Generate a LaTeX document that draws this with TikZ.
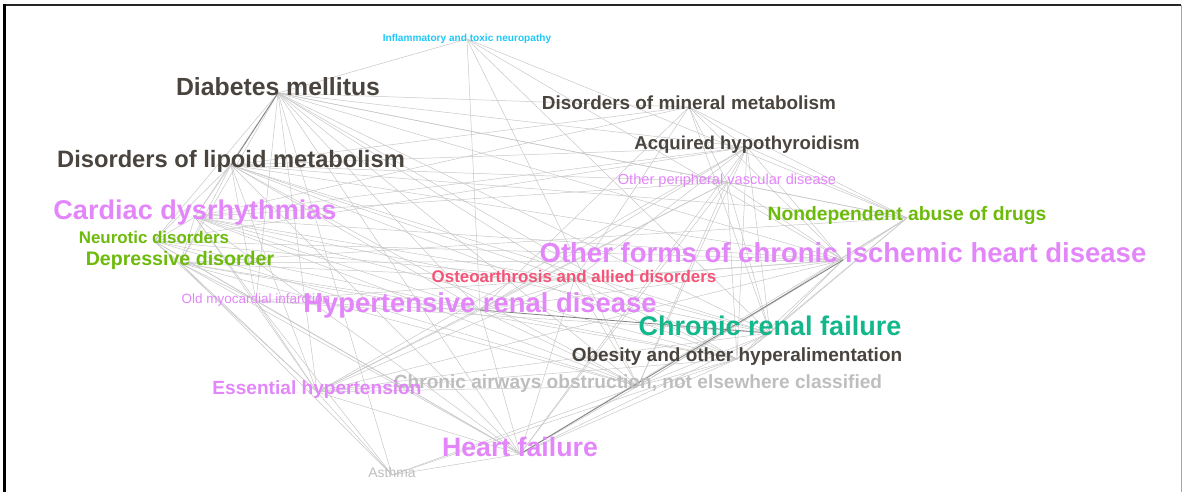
\documentclass[tikz,border=0pt]{standalone}
\usepackage{fontspec}
\usepackage{tikz}
\usetikzlibrary{backgrounds}
\newfontfamily\gfont{Liberation Sans}

\definecolor{dkgray}{RGB}{74,68,63}
\definecolor{pinkc}{RGB}{226,134,250}
\definecolor{greenc}{RGB}{108,186,10}
\definecolor{tealc}{RGB}{18,184,140}
\definecolor{redc}{RGB}{245,84,120}
\definecolor{cyanc}{RGB}{30,200,250}
\definecolor{ltgray}{RGB}{190,190,190}

\tikzset{
  dis/.style={inner sep=0pt, text height=0.75em, text depth=0.2em,
    font=\gfont\bfseries\fontsize{#1}{#1}\selectfont},
  disthin/.style={inner sep=0pt, text height=0.75em, text depth=0.2em,
    font=\gfont\fontsize{#1}{#1}\selectfont},
  edge/.style={draw=black!22, line width=0.5pt},
  heavy/.style={draw=black!50, line width=0.8pt}
}

\begin{document}
\begin{tikzpicture}[x=1pt, y=-1pt]
\useasboundingbox (0,0) rectangle (1183,492);

%Frame
\draw[black!85, line width=2pt] (3,5) -- (1181,5);
\draw[black, line width=2.5pt] (4.5,4) -- (4.5,492);
\draw[black!35, line width=1pt] (1181,5) -- (1181,492);

%Nodes
\node[dis=10.1, cyanc]      (IN) at (467,39)  {Inflammatory and toxic neuropathy};
\node[dis=24.8, dkgray]     (DM) at (278,93)  {Diabetes mellitus};
\node[dis=18.9, dkgray]     (MM) at (689,107) {Disorders of mineral metabolism};
\node[dis=18.6, dkgray]     (AH) at (747,147) {Acquired hypothyroidism};
\node[dis=23.7, dkgray]     (LM) at (231,165) {Disorders of lipoid metabolism};
\node[disthin=14.6, pinkc]  (PV) at (727,182) {Other peripheral vascular disease};
\node[dis=27.1, pinkc]      (CD) at (195,217) {Cardiac dysrhythmias};
\node[dis=19.3, greenc]     (ND) at (907,218) {Nondependent abuse of drugs};
\node[dis=16.9, greenc]     (NE) at (154,241) {Neurotic disorders};
\node[dis=19.6, greenc]     (DD) at (180,263) {Depressive disorder};
\node[dis=27.5, pinkc]      (OF) at (843,260) {Other forms of chronic ischemic heart disease};
\node[dis=16.9, redc]       (OA) at (574,280) {Osteoarthrosis and allied disorders};
\node[disthin=13.5, pinkc]  (OM) at (256,301) {Old myocardial infarction};
\node[dis=27.4, pinkc]      (HR) at (480,310) {Hypertensive renal disease};
\node[dis=27.0, tealc]      (CR) at (770,333) {Chronic renal failure};
\node[dis=19.0, dkgray]     (OB) at (737,359) {Obesity and other hyperalimentation};
\node[dis=19.1, ltgray]     (CA) at (638,386) {Chronic airways obstruction, not elsewhere classified};
\node[dis=19.1, pinkc]      (EH) at (317,392) {Essential hypertension};
\node[dis=26.7, pinkc]      (HF) at (520,454) {Heart failure};
\node[disthin=13.9, ltgray] (AS) at (392,475) {Asthma};

%Lines
\begin{scope}[on background layer]
\foreach \a/\b in {IN/DM, IN/HR, IN/CA, IN/CR, IN/OF, IN/ND,
  DM/CD, DM/NE, DM/DD, DM/OM, DM/EH, DM/HR, DM/OA, DM/HF, DM/CR,
  DM/OB, DM/CA, DM/OF, DM/AH, DM/MM, DM/PV, DM/ND, DM/AS,
  LM/CD, LM/NE, LM/DD, LM/OM, LM/EH, LM/HR, LM/OA, LM/HF, LM/CR,
  LM/OB, LM/CA, LM/OF, LM/AH, LM/MM, LM/PV, LM/ND,
  CD/NE, CD/DD, CD/OM, CD/EH, CD/HR, CD/OA, CD/HF, CD/CR, CD/OB,
  CD/CA, CD/OF, CD/AH, CD/PV, CD/MM,
  NE/DD, NE/OM, NE/EH, NE/OF, NE/HR, NE/HF, NE/OA, NE/CA, NE/AH,
  DD/OM, DD/EH, DD/HR, DD/HF, DD/OA, DD/OF, DD/CA, DD/OB, DD/ND, DD/AS,
  OM/EH, OM/HR, OM/HF, OM/OF, OM/CR, OM/AS,
  EH/HR, EH/HF, EH/CR, EH/OF, EH/OA, EH/OB, EH/CA, EH/AS, EH/AH, EH/PV,
  HR/HF, HR/OF, HR/OA, HR/OB, HR/CA, HR/AH, HR/MM, HR/PV,
  OA/HF, OA/OF, OA/CR, OA/OB, OA/CA, OA/AH, OA/MM,
  HF/CR, HF/OB, HF/CA, HF/AS, HF/AH, HF/PV, HF/ND,
  CR/OF, CR/OB, CR/CA, CR/AH, CR/MM, CR/PV, CR/ND,
  OB/OF, OB/CA, OB/AH, OB/PV, OB/ND, OB/AS,
  CA/OF, CA/AS, CA/AH, CA/PV, CA/ND,
  OF/AH, OF/MM, OF/PV, OF/ND,
  AH/MM, AH/PV, AH/ND, MM/PV, MM/ND, PV/ND}
  \draw[edge] (\a.center) -- (\b.center);
\foreach \a/\b in {DM/LM, HF/OF, HR/CR}
  \draw[heavy] (\a.center) -- (\b.center);
\end{scope}
\end{tikzpicture}
\end{document}
